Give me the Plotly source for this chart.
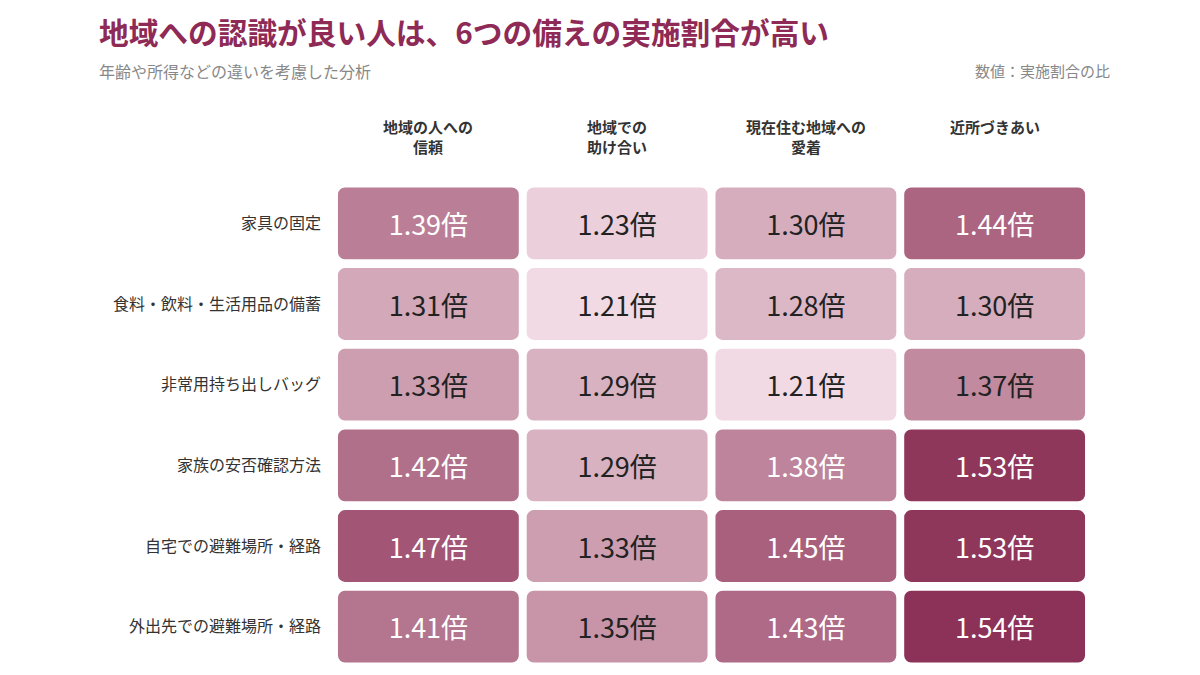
import plotly.graph_objects as go

# data
rows = ["家具の固定", "食料・飲料・生活用品の備蓄", "非常用持ち出しバッグ",
        "家族の安否確認方法", "自宅での避難場所・経路", "外出先での避難場所・経路"]
cols = ["地域の人への<br>信頼", "地域での<br>助け合い", "現在住む地域への<br>愛着", "近所づきあい"]
trust = [1.39, 1.31, 1.33, 1.42, 1.47, 1.41]
mutual_help = [1.23, 1.21, 1.29, 1.29, 1.33, 1.35]
attachment = [1.30, 1.28, 1.21, 1.38, 1.45, 1.43]
neighbours = [1.44, 1.30, 1.37, 1.53, 1.53, 1.54]
values = [trust, mutual_help, attachment, neighbours]

FONT = "Noto Sans CJK JP"
scale = [[0, "#f1dae3"], [0.5, "#bf879d"], [1, "#8c3157"]]
vmin, vmax = 1.21, 1.54

fig = go.Figure()
for j, col_vals in enumerate(values):
    fig.add_trace(go.Bar(
        y=rows,
        x=[0.958] * len(rows),
        base=[j - 0.479] * len(rows),
        orientation="h",
        width=0.89,
        marker=dict(color=col_vals, colorscale=scale, cmin=vmin, cmax=vmax,
                    cornerradius=7, line=dict(width=0)),
        text=[f"{v:.2f}倍" for v in col_vals],
        textposition="inside",
        insidetextanchor="middle",
        textangle=0,
        textfont=dict(family=FONT, size=27,
                      color=["white" if v >= 1.38 else "#222222" for v in col_vals]),
        hoverinfo="skip",
        showlegend=False,
    ))

# column headers
for j, c in enumerate(cols):
    fig.add_annotation(x=j, xref="x", y=1.142, yref="paper", text=c,
                       showarrow=False, yanchor="top", xanchor="center",
                       font=dict(family=FONT, size=15, color="#333333", weight="bold"))

# page has an 8px body margin, so pixel positions are shifted by -8
fig.add_annotation(x=-0.314, xref="paper", y=1.314, yref="paper",
                   text="地域への認識が良い人は、6つの備えの実施割合が高い",
                   showarrow=False, xanchor="left", yanchor="middle",
                   font=dict(family=FONT, size=29.7, color="#8e2a55", weight="bold"))
fig.add_annotation(x=-0.314, xref="paper", y=1.232, yref="paper",
                   text="年齢や所得などの違いを考慮した分析", showarrow=False,
                   xanchor="left", yanchor="middle",
                   font=dict(family=FONT, size=16, color="#888888"))
fig.add_annotation(x=1.0305, xref="paper", y=1.232, yref="paper",
                   text="数値：実施割合の比", showarrow=False,
                   xanchor="right", yanchor="middle",
                   font=dict(family=FONT, size=15, color="#888888"))

fig.update_layout(
    width=1200, height=675,
    paper_bgcolor="white", plot_bgcolor="white",
    margin=dict(l=326, r=119, t=174.5, b=15.5),
    barmode="overlay",
    xaxis=dict(range=[-0.5, 3.5], showgrid=False, zeroline=False,
               showticklabels=False, fixedrange=True),
    yaxis=dict(categoryorder="array", categoryarray=rows, autorange="reversed",
               showgrid=False, zeroline=False, ticks="", ticklabelstandoff=12,
               tickfont=dict(family=FONT, size=16, color="#333333")),
)

fig.write_html("out.html")
